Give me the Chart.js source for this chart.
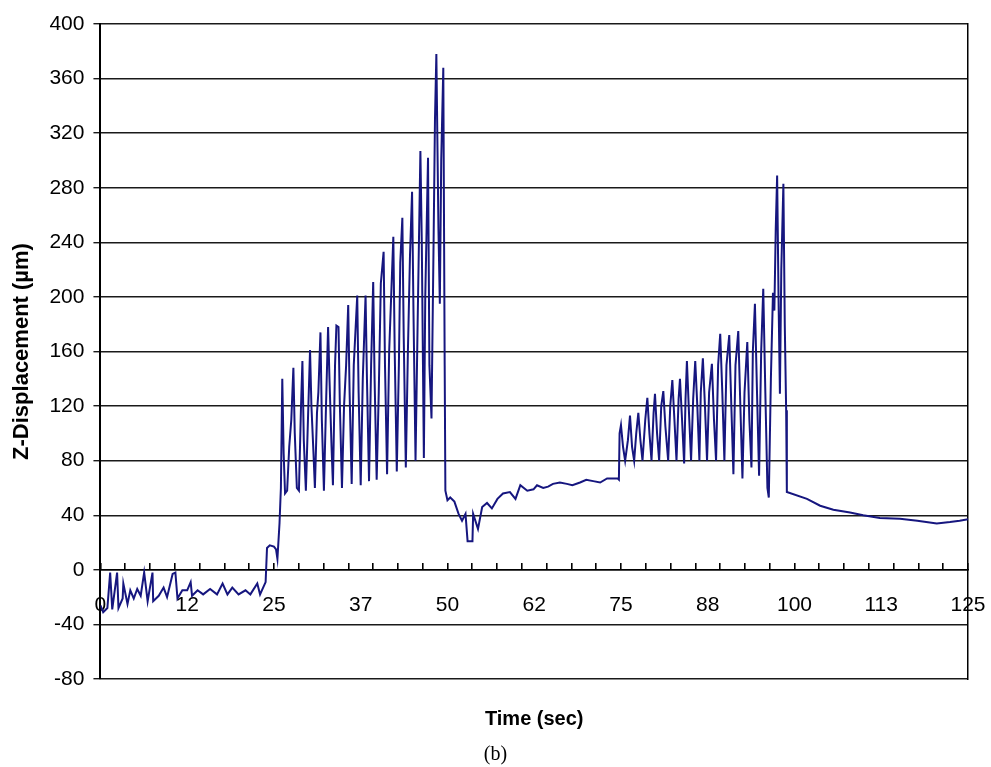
<!DOCTYPE html>
<html>
<head>
<meta charset="utf-8">
<script src="https://cdn.jsdelivr.net/npm/chart.js@4.4.1/dist/chart.umd.min.js"></script>
<style>
  html, body { margin: 0; padding: 0; background: #fff; }
  #wrap { width: 991px; height: 767px; }
</style>
</head>
<body>
<div id="wrap"><canvas id="zChart" width="991" height="767"></canvas></div>
<script>
// Datos: tiempo (s) y desplazamiento Z (µm)
const restTimes = [0, 0.4, 1.0, 1.4, 1.7, 2.4, 2.6, 3.2, 3.3, 3.9, 4.3, 4.8, 5.3, 5.8, 6.3, 6.8, 7.5, 7.6, 8.4, 9.1, 9.6, 10.4, 10.8, 11.1, 11.8, 12.5, 13.0, 13.2, 14.0, 14.8, 15.8, 16.8, 17.6, 18.3, 19.0, 19.9, 20.9, 21.6, 22.6, 23.0, 23.8];
const restValues = [-26, -31, -28, -2, -29, -2, -28, -21, -10, -25, -15, -21, -14, -19, -2, -23, -2, -23, -19, -13, -20, -3, -2, -21, -15, -15, -9, -19, -15, -18, -14, -18, -10, -18, -13, -18, -15, -18, -10, -18, -9];

const load1Times = [24.0, 24.4, 25.0, 25.3, 25.5, 25.8, 26.0, 26.2, 26.4, 26.6, 26.9, 27.2, 27.5, 27.8, 28.0, 28.3, 28.6, 28.9, 29.1, 29.3, 29.6, 29.9, 30.2, 30.4, 30.7, 30.9, 31.2, 31.4, 31.7, 31.9, 32.2, 32.5, 32.8, 33.0, 33.3, 33.5, 33.8, 34.0, 34.3, 34.5, 34.8, 35.1, 35.4, 35.7, 35.9, 36.2, 36.5, 37.0, 37.2, 37.5, 37.8, 38.2, 38.4, 38.7, 39.0, 39.3, 39.5, 39.8, 40.1, 40.4, 40.8, 41.0, 41.3, 41.6, 42.2, 42.4, 42.7, 43.0, 43.2, 43.5, 43.7, 44.0, 44.3, 44.6, 44.9, 45.1, 45.4, 45.7, 46.1, 46.3, 46.6, 46.8, 47.2, 47.4, 47.7, 48.0, 48.2, 48.4, 48.7, 48.9, 49.1, 49.4, 49.6];
const load1Values = [16, 18, 17, 15, 8, 34, 60, 140, 85, 56, 58, 90, 110, 148, 100, 60, 58, 120, 153, 95, 58, 110, 161, 120, 85, 60, 115, 130, 174, 110, 58, 120, 178, 140, 90, 62, 150, 179, 178, 120, 60, 120, 150, 194, 130, 63, 150, 201, 130, 62, 140, 201, 140, 65, 150, 211, 140, 66, 130, 210, 233, 150, 70, 160, 244, 160, 72, 150, 225, 258, 170, 75, 160, 230, 277, 190, 80, 180, 307, 240, 82, 200, 302, 150, 111, 240, 330, 378, 250, 195, 300, 368, 150];

const relaxTimes = [49.7, 50.0, 50.4, 51.0, 51.6, 52.1, 52.6, 52.9, 53.6, 53.7, 54.4, 55.0, 55.7, 56.4, 57.2, 58.0, 59.0, 59.8, 60.5, 61.5, 62.4, 62.9, 63.8, 64.5, 65.2, 66.2, 67.2, 68.0, 69.1, 70.0, 71.0, 72.0, 73.0, 74.5, 74.7];
const relaxValues = [58, 51, 53, 50, 41, 36, 41, 21, 21, 41, 30, 46, 49, 45, 52, 56, 57, 52, 62, 58, 59, 62, 60, 61, 63, 64, 63, 62, 64, 66, 65, 64, 67, 67, 66];

const load2Times = [74.8, 75.0, 75.3, 75.6, 76.0, 76.3, 76.6, 76.9, 77.2, 77.5, 77.8, 78.1, 78.5, 78.8, 79.1, 79.4, 79.7, 79.9, 80.2, 80.5, 80.8, 81.1, 81.4, 81.8, 82.1, 82.4, 82.7, 83.0, 83.3, 83.5, 83.8, 84.1, 84.3, 84.5, 84.8, 85.1, 85.4, 85.7, 86.0, 86.3, 86.5, 86.8, 87.1, 87.4, 87.7, 88.1, 88.4, 88.7, 89.0, 89.3, 89.6, 89.9, 90.2, 90.6, 90.9, 91.2, 91.5, 91.9, 92.2, 92.5, 92.8, 93.2, 93.5, 93.8, 94.0, 94.3, 94.6, 94.9, 95.2, 95.5, 95.8, 96.1, 96.3, 96.6, 96.9, 97.1, 97.3, 97.5, 97.7, 97.9, 98.1, 98.4, 98.6, 98.8, 98.9];
const load2Values = [100, 106, 90, 80, 95, 113, 90, 80, 100, 115, 95, 80, 110, 126, 100, 80, 115, 129, 100, 80, 120, 131, 105, 80, 120, 139, 110, 80, 125, 140, 110, 78, 125, 153, 115, 80, 125, 153, 120, 80, 130, 155, 120, 80, 130, 151, 110, 80, 150, 173, 130, 80, 150, 172, 120, 70, 150, 175, 120, 67, 130, 167, 110, 75, 160, 195, 130, 69, 160, 206, 130, 60, 53, 140, 203, 190, 250, 289, 200, 129, 220, 283, 180, 117, 57];

const tailTimes = [101.8, 103.7, 105.6, 108.0, 109.9, 112.3, 115.2, 117.7, 120.5, 122.4, 123.8, 125];
const tailValues = [52, 47, 44, 42, 40, 38, 37.4, 36, 34, 35, 36, 37];

const xTickValues = [0, 12.5, 25, 37.5, 50, 62.5, 75, 87.5, 100, 112.5, 125];
const xTickLabels = ['0', '12', '25', '37', '50', '62', '75', '88', '100', '113', '125'];

const times = [].concat(restTimes, load1Times, relaxTimes, load2Times, tailTimes);
const values = [].concat(restValues, load1Values, relaxValues, load2Values, tailValues);
const points = times.map((t, i) => ({ x: t, y: values[i] }));

const sans = "'Liberation Sans', Arial, sans-serif";
const ink = '#000';

const ctx = document.getElementById('zChart').getContext('2d');

new Chart(ctx, {
    type: 'line',
    data: {
        datasets: [{
            label: 'Z-Displacement',
            data: points,
            borderColor: '#16167f',
            borderWidth: 2,
            pointRadius: 0,
            tension: 0,
            fill: false,
            xAxisID: 'x',
            yAxisID: 'y'
        }]
    },
    options: {
        responsive: false,
        animation: false,
        events: [],
        layout: { padding: { top: 24, right: 0, left: 0, bottom: 0 } },
        plugins: {
            legend: { display: false },
            tooltip: { enabled: false },
            title: {
                display: true,
                position: 'bottom',
                text: '(b)',
                color: ink,
                font: { family: "'Liberation Serif', 'Times New Roman', serif", size: 20, weight: 'normal' },
                padding: { top: 6, bottom: 0 }
            }
        },
        scales: {
            x: {
                type: 'linear',
                min: 0,
                max: 125,
                position: { y: 0 },
                afterBuildTicks: (axis) => { axis.ticks = xTickValues.map(v => ({ value: v })); },
                // el margen derecho no depende del padding de las etiquetas
                afterFit: (axis) => { axis.paddingLeft = 0; axis.paddingRight = 23; },
                ticks: {
                    autoSkip: false,
                    maxRotation: 0,
                    padding: 23,
                    color: ink,
                    font: { family: sans, size: 21 },
                    callback: (value, index) => xTickLabels[index]
                },
                grid: { display: true, drawOnChartArea: false, drawTicks: false },
                border: { display: true, color: ink, width: 1.5 }
            },
            xMinor: {
                type: 'linear',
                min: 0,
                max: 125,
                position: { y: 0 },
                afterBuildTicks: (axis) => {
                    const t = [];
                    for (let i = 0; i <= 35; i++) t.push({ value: i * 125 / 35 });
                    axis.ticks = t;
                },
                ticks: { display: false },
                grid: { drawOnChartArea: false, drawTicks: true, tickLength: -7, color: ink, lineWidth: 1.6 },
                border: { display: false }
            },
            xTitle: {
                type: 'linear',
                min: 0,
                max: 125,
                position: 'bottom',
                ticks: { display: false },
                grid: { display: false },
                border: { display: false },
                title: {
                    display: true,
                    text: 'Time (sec)',
                    color: ink,
                    font: { family: sans, size: 20, weight: 'bold' },
                    padding: { top: 20, bottom: 6 }
                }
            },
            y: {
                min: -80,
                max: 400,
                position: 'left',
                afterFit: (axis) => { axis.paddingTop = 0; axis.paddingBottom = 0; },
                ticks: {
                    stepSize: 40,
                    padding: 9,
                    color: ink,
                    font: { family: sans, size: 21 }
                },
                grid: { color: '#1a1a1a', lineWidth: 1.4, tickLength: 7 },
                border: { color: ink, width: 2 },
                title: {
                    display: true,
                    text: 'Z-Displacement (µm)',
                    color: ink,
                    font: { family: sans, size: 22, weight: 'bold' },
                    padding: { top: 9, bottom: 5 }
                }
            },
            yRight: {
                min: -80,
                max: 400,
                position: 'right',
                ticks: { display: false },
                grid: { drawOnChartArea: false, drawTicks: false },
                border: { display: true, color: ink, width: 1.5 }
            }
        }
    }
});
</script>
</body>
</html>
